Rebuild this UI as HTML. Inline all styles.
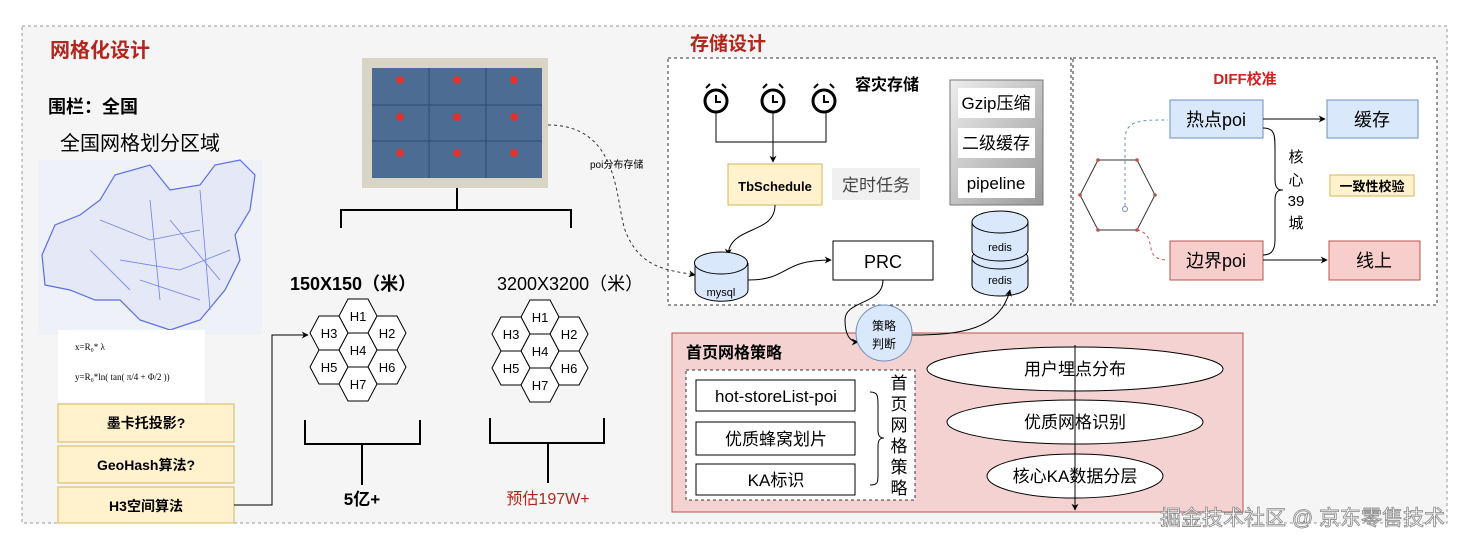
<!DOCTYPE html>
<html><head><meta charset="utf-8"><style>
html,body{margin:0;padding:0;background:#fff;}
svg{display:block;font-family:"Liberation Sans","Noto Sans CJK SC",sans-serif;}
</style></head><body>
<svg width="1462" height="548" viewBox="0 0 1462 548" xmlns="http://www.w3.org/2000/svg">
<defs>
<marker id="a" viewBox="0 0 10 10" refX="9" refY="5" markerWidth="7" markerHeight="7" orient="auto"><path d="M0,0L10,5L0,10L3,5z" fill="#000"/></marker>
<linearGradient id="g" x1="0" y1="0" x2="1" y2="1"><stop offset="0" stop-color="#eee"/><stop offset="1" stop-color="#999"/></linearGradient>
</defs>
<rect x="22" y="26" width="1425" height="497" fill="#f5f5f5" stroke="#999" stroke-dasharray="3,3"/>
<text x="50" y="57" font-size="20" font-weight="bold" fill="#b3261e">网格化设计</text>
<text x="48" y="113" font-size="18" font-weight="bold">围栏：全国</text>
<text x="60" y="150" font-size="20">全国网格划分区域</text>
<!-- map -->
<rect x="38" y="160" width="224" height="175" fill="#eef1f8"/>
<path d="M42,255 L55,225 80,215 100,200 115,175 150,165 170,190 200,185 215,165 240,160 255,175 250,210 235,235 240,260 225,290 200,320 170,330 140,320 120,300 95,300 70,290 45,285z" fill="#e4e8f7" stroke="#5a6ee0" stroke-width="1.2"/>
<path d="M100,220 L150,240 200,230 M120,260 L180,270 230,250 M150,200 L160,300 M200,190 L210,310 M90,250 L130,290 M170,220 L220,280 M140,280 L200,300" stroke="#6f82e6" stroke-width="0.8" fill="none"/>
<rect x="58" y="330" width="147" height="72" fill="#fff"/>
<text x="75" y="350" font-size="9" font-family="Liberation Serif,serif">x=R₀* λ</text>
<text x="75" y="380" font-size="9" font-family="Liberation Serif,serif">y=R₀*ln( tan( π/4 + Φ/2 ))</text>
<g font-size="14" font-weight="bold" text-anchor="middle">
<rect x="58" y="404" width="176" height="38" fill="#fff2cc" stroke="#d6b656"/><text x="146" y="428">墨卡托投影?</text>
<rect x="58" y="446" width="176" height="37" fill="#fff2cc" stroke="#d6b656"/><text x="146" y="470">GeoHash算法?</text>
<rect x="58" y="487" width="176" height="36" fill="#fff2cc" stroke="#d6b656"/><text x="146" y="511">H3空间算法</text>
</g>
<path d="M234,505 H272 V335 H308" fill="none" stroke="#000" marker-end="url(#a)"/>
<!-- grid image -->
<rect x="362" y="58" width="186" height="130" fill="#d8d4c6"/>
<rect x="372" y="68" width="170" height="110" fill="#4d6c94"/>
<g stroke="#2d4a70" stroke-width="1"><path d="M429,68V178M486,68V178M372,105H542M372,141H542"/></g>
<g fill="#d33"><circle cx="400" cy="80" r="4"/><circle cx="457" cy="80" r="4"/><circle cx="514" cy="80" r="4"/><circle cx="400" cy="117" r="4"/><circle cx="457" cy="117" r="4"/><circle cx="514" cy="117" r="4"/><circle cx="400" cy="153" r="4"/><circle cx="457" cy="153" r="4"/><circle cx="514" cy="153" r="4"/></g>
<g fill="none" stroke="#000" stroke-width="2">
<path d="M457,188V210M341,228V210H571V228"/>
<path d="M305,420V444H420V420M362,444V485"/>
<path d="M490,418V443H604V418M548,443V483"/>
</g>
<text x="290" y="290" font-size="18" font-weight="bold">150X150（米）</text>
<text x="497" y="290" font-size="18">3200X3200（米）</text>
<g id="hx" font-size="13" text-anchor="middle" stroke-width="1">
<g transform="translate(358,316)"><path d="M-19,0L-10,-17H10L19,0L10,17H-10z" fill="#fff" stroke="#000"/><text y="5">H1</text></g>
<g transform="translate(329,333)"><path d="M-19,0L-10,-17H10L19,0L10,17H-10z" fill="#fff" stroke="#000"/><text y="5">H3</text></g>
<g transform="translate(387,333)"><path d="M-19,0L-10,-17H10L19,0L10,17H-10z" fill="#fff" stroke="#000"/><text y="5">H2</text></g>
<g transform="translate(358,350)"><path d="M-19,0L-10,-17H10L19,0L10,17H-10z" fill="#fff" stroke="#000"/><text y="5">H4</text></g>
<g transform="translate(329,367)"><path d="M-19,0L-10,-17H10L19,0L10,17H-10z" fill="#fff" stroke="#000"/><text y="5">H5</text></g>
<g transform="translate(387,367)"><path d="M-19,0L-10,-17H10L19,0L10,17H-10z" fill="#fff" stroke="#000"/><text y="5">H6</text></g>
<g transform="translate(358,384)"><path d="M-19,0L-10,-17H10L19,0L10,17H-10z" fill="#fff" stroke="#000"/><text y="5">H7</text></g>
</g>
<use href="#hx" x="182" y="1"/>
<text x="362" y="505" font-size="17" font-weight="bold" text-anchor="middle">5亿+</text>
<text x="548" y="504" font-size="16" fill="#b3261e" text-anchor="middle">预估197W+</text>
<!-- storage -->
<text x="690" y="50" font-size="19" font-weight="bold" fill="#b3261e">存储设计</text>
<rect x="668" y="58" width="403" height="247" fill="#fff" stroke="#333" stroke-dasharray="3,3"/>
<rect x="1073" y="58" width="364" height="247" fill="#fff" stroke="#333" stroke-dasharray="3,3"/>
<path d="M548,125 C620,125 615,200 625,230 C640,270 670,270 695,275" fill="none" stroke="#333" stroke-dasharray="3,3" marker-end="url(#a)"/>
<text x="590" y="168" font-size="10">poi分布存储</text>
<text x="855" y="90" font-size="16" font-weight="bold">容灾存储</text>
<g fill="#fff" stroke="#000" stroke-width="3">
<circle cx="716" cy="101" r="11"/><circle cx="773" cy="101" r="11"/><circle cx="824" cy="101" r="11"/>
</g>
<g stroke="#000" stroke-width="2" fill="none"><path d="M716,95V102H721M773,95V102H778M824,95V102H829"/>
<path d="M706,88l4,-4M726,88l-4,-4M763,88l4,-4M783,88l-4,-4M814,88l4,-4M834,88l-4,-4"/></g>
<path d="M716,113V142H826V113" fill="none" stroke="#000"/>
<path d="M773,113V162" fill="none" stroke="#000" marker-end="url(#a)"/>
<rect x="728" y="164" width="94" height="41" fill="#fff2cc" stroke="#d6b656"/>
<text x="775" y="191" font-size="13" font-weight="bold" text-anchor="middle">TbSchedule</text>
<rect x="832" y="168" width="88" height="32" fill="#f0f0f0"/>
<text x="876" y="191" font-size="17" fill="#444" text-anchor="middle">定时任务</text>
<rect x="950" y="80" width="93" height="125" fill="url(#g)" stroke="#777"/>
<g font-size="17" text-anchor="middle"><rect x="958" y="88" width="77" height="30" fill="#fff"/><text x="996" y="109">Gzip压缩</text>
<rect x="958" y="128" width="77" height="30" fill="#fff"/><text x="996" y="149">二级缓存</text>
<rect x="958" y="168" width="77" height="30" fill="#fff"/><text x="996" y="189">pipeline</text></g>
<path d="M775,205 C775,235 730,225 728,255" fill="none" stroke="#000" marker-end="url(#a)"/>
<g stroke="#000" fill="#dae8fc">
<path d="M695,263V290A26,11 0 0 0 748,290V263"/><ellipse cx="721" cy="263" rx="26.5" ry="11"/>
<path d="M972,258V285A28,11 0 0 0 1028,285V258"/><ellipse cx="1000" cy="258" rx="28" ry="11"/>
<path d="M972,222V250A28,11 0 0 0 1028,250V222"/><ellipse cx="1000" cy="222" rx="28" ry="11"/>
</g>
<g font-size="11" text-anchor="middle"><text x="721" y="296">mysql</text><text x="1000" y="251">redis</text><text x="1000" y="284">redis</text></g>
<path d="M748,280 C790,280 780,260 831,260" fill="none" stroke="#000" marker-end="url(#a)"/>
<rect x="833" y="241" width="100" height="39" fill="#fff" stroke="#000"/>
<text x="883" y="268" font-size="18" text-anchor="middle">PRC</text>
<!-- diff -->
<text x="1245" y="84" font-size="15" font-weight="bold" fill="#d32020" text-anchor="middle">DIFF校准</text>
<path d="M1080,195L1098,160H1137L1155,195L1137,230H1098z" fill="#fff" stroke="#333"/>
<g fill="#b85450"><circle cx="1098" cy="160" r="1.8"/><circle cx="1137" cy="160" r="1.8"/><circle cx="1155" cy="195" r="1.8"/><circle cx="1137" cy="230" r="1.8"/><circle cx="1098" cy="230" r="1.8"/><circle cx="1080" cy="195" r="1.8"/></g>
<circle cx="1125" cy="209" r="2.5" fill="none" stroke="#6c8ebf"/>
<path d="M1125,206V140C1125,120 1140,120 1168,120" fill="none" stroke="#6c8ebf" stroke-dasharray="3,3"/>
<path d="M1137,230C1160,235 1140,260 1168,260" fill="none" stroke="#b85450" stroke-dasharray="3,3"/>
<rect x="1170" y="100" width="93" height="38" fill="#dae8fc" stroke="#6c8ebf"/><text x="1216" y="126" font-size="18" text-anchor="middle">热点poi</text>
<rect x="1327" y="100" width="91" height="38" fill="#dae8fc" stroke="#6c8ebf"/><text x="1372" y="126" font-size="18" text-anchor="middle">缓存</text>
<rect x="1170" y="241" width="93" height="39" fill="#f8cecc" stroke="#b85450"/><text x="1216" y="267" font-size="18" text-anchor="middle">边界poi</text>
<rect x="1329" y="241" width="91" height="39" fill="#f8cecc" stroke="#b85450"/><text x="1374" y="267" font-size="18" text-anchor="middle">线上</text>
<path d="M1263,119H1325" stroke="#000" marker-end="url(#a)"/>
<path d="M1263,260H1327" stroke="#000" marker-end="url(#a)"/>
<path d="M1263,128C1275,128 1275,135 1275,150V180C1275,190 1280,190 1283,190C1280,190 1275,190 1275,200V240C1275,252 1270,255 1263,255" fill="none" stroke="#000"/>
<g font-size="15" text-anchor="middle"><text x="1296" y="162">核</text><text x="1296" y="185">心</text><text x="1296" y="206">39</text><text x="1296" y="228">城</text></g>
<rect x="1330" y="175" width="84" height="21" fill="#fff2cc" stroke="#d6b656"/>
<text x="1372" y="191" font-size="13" font-weight="bold" text-anchor="middle">一致性校验</text>
<!-- strategy -->
<rect x="672" y="333" width="571" height="179" fill="#f4d2d2" stroke="#b85450"/>
<text x="686" y="358" font-size="16" font-weight="bold">首页网格策略</text>
<path d="M883,280C883,305 845,300 845,320C845,335 850,342 858,342" fill="none" stroke="#000" marker-end="url(#a)"/>
<path d="M912,335C960,335 1000,330 1010,290" fill="none" stroke="#000" marker-end="url(#a)"/>
<circle cx="884" cy="333" r="28" fill="#dae8fc" stroke="#6c8ebf"/>
<text x="884" y="330" font-size="12" text-anchor="middle">策略</text><text x="884" y="348" font-size="12" text-anchor="middle">判断</text>
<rect x="686" y="370" width="229" height="130" fill="#fff" stroke="#333" stroke-dasharray="3,3"/>
<g fill="#fff" stroke="#000">
<rect x="696" y="380" width="159" height="31"/><rect x="696" y="422" width="159" height="33"/><rect x="696" y="464" width="159" height="31"/></g>
<g font-size="17" text-anchor="middle"><text x="776" y="402">hot-storeList-poi</text><text x="776" y="445">优质蜂窝划片</text><text x="776" y="486">KA标识</text></g>
<path d="M870,392C878,392 878,396 878,405V430C878,436 880,438 884,438C880,438 878,440 878,446V475C878,482 878,485 870,485" fill="none" stroke="#000"/>
<g font-size="17" text-anchor="middle"><text x="899" y="389">首</text><text x="899" y="410">页</text><text x="899" y="431">网</text><text x="899" y="452">格</text><text x="899" y="473">策</text><text x="899" y="494">略</text></g>
<g fill="#fff" stroke="#000"><ellipse cx="1075" cy="369" rx="148" ry="22"/><ellipse cx="1075" cy="422" rx="128" ry="22"/><ellipse cx="1075" cy="476" rx="88" ry="22"/></g>
<g font-size="17" text-anchor="middle"><text x="1075" y="375">用户埋点分布</text><text x="1075" y="428">优质网格识别</text><text x="1075" y="482">核心KA数据分层</text></g>
<path d="M1075,345V510" stroke="#000" marker-end="url(#a)"/>
<text x="1445" y="525" font-size="21" text-anchor="end" fill="#fff" stroke="#888" stroke-width="0.8">掘金技术社区 @ 京东零售技术</text>
</svg>
</body></html>
